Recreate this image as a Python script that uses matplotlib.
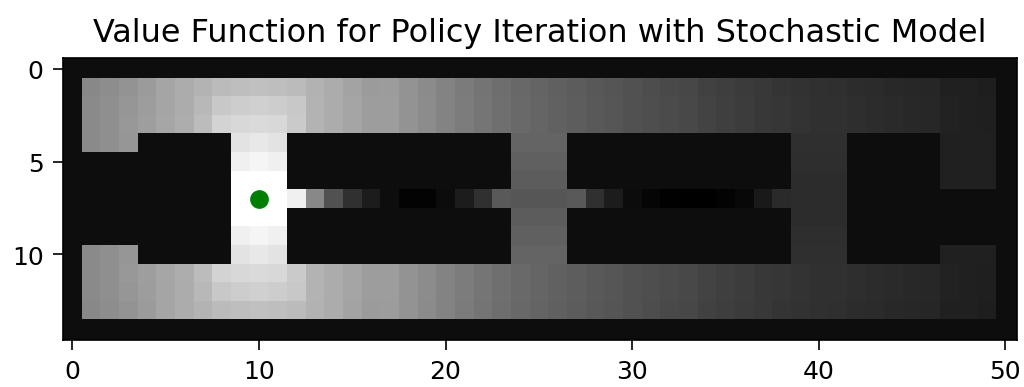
import matplotlib
matplotlib.use("Agg")
import matplotlib.pyplot as plt
import numpy as np

# grey level of each cell (0-255), one list per grid row
w = 13  # wall cells

row_0 = [w] * 51
row_1 = [w, 136, 141, 148, 155, 165, 172, 180, 187, 190, 192, 190, 187, 178, 172, 163, 155,
         156, 147, 139, 131, 123, 116, 110, 104, 100, 96, 92, 88, 85, 81, 77, 74, 71,
         66, 62, 59, 56, 53, 50, 48, 47, 45, 43, 41, 39, 38, 33, 32, 30, w]
row_2 = [w, 138, 143, 150, 157, 165, 172, 184, 200, 205, 208, 205, 200, 180, 172, 165, 157,
         157, 148, 140, 132, 124, 117, 111, 105, 101, 97, 93, 89, 86, 82, 78, 75, 72,
         67, 63, 60, 57, 54, 51, 49, 48, 46, 44, 42, 40, 39, 34, 33, 31, w]
row_3 = [w, 138, 143, 152, 158, 166, 173, 188, 212, 216, 218, 216, 202, 180, 172, 165, 157,
         157, 148, 140, 132, 124, 117, 111, 105, 101, 97, 93, 89, 86, 82, 78, 75, 72,
         67, 63, 60, 57, 54, 51, 49, 48, 46, 44, 42, 40, 39, 34, 33, 31, w]
row_4 = [w, 138, 143, 150] + [w] * 5 + [228, 232, 228] + [w] * 12 + [100, 100, 100] + [w] * 12 \
    + [47, 47, 47] + [w] * 5 + [33, 33, 33, w]
row_5 = [w] * 9 + [240, 245, 240] + [w] * 12 + [96, 96, 96] + [w] * 12 \
    + [46, 46, 46] + [w] * 5 + [33, 33, 33, w]
row_6 = [w] * 9 + [255, 255, 255] + [w] * 12 + [92, 92, 92] + [w] * 12 \
    + [45, 45, 45] + [w] * 5 + [33, 33, 33, w]
row_7 = [w] * 9 + [255, 255, 255, 240, 136, 82, 48, 28, 13, 3, 3, 12, 28, 48, 90,
                   86, 86, 86, 90, 48, 28, 12, 5, 1, 0, 0, 3, 8, 25, 42,
                   45, 45, 45] + [w] * 9
row_8 = [w] * 9 + [255, 255, 255] + [w] * 12 + [92, 92, 92] + [w] * 12 \
    + [45, 45, 45] + [w] * 9
row_9 = [w] * 9 + [240, 245, 240] + [w] * 12 + [96, 96, 96] + [w] * 12 \
    + [46, 46, 46] + [w] * 9
row_10 = row_4
row_11 = row_3
row_12 = row_2
row_13 = row_1
row_14 = row_0

values = np.array([row_0, row_1, row_2, row_3, row_4, row_5, row_6, row_7,
                   row_8, row_9, row_10, row_11, row_12, row_13, row_14])

start_x = [10]
start_y = [7]

fig = plt.figure(figsize=(1024 / 150, 388 / 150), dpi=150)
ax = fig.add_axes([63 / 1024, 1 - 341 / 388, 953.5 / 1024, 282 / 388])
ax.set_facecolor("#0d0d0d")  # limits run slightly past the image
ax.imshow(values, cmap="gray", vmin=0, vmax=255, aspect="auto", interpolation="nearest")
ax.plot(start_x, start_y, "o", color="green", markersize=9, markeredgewidth=0)
ax.set_xlim(-0.5, 50.6)
ax.set_ylim(14.6, -0.57)
ax.set_xticks([0, 10, 20, 30, 40, 50])
ax.set_yticks([0, 5, 10])
ax.tick_params(labelsize=12, length=4.8, pad=4.5)
ax.set_title("Value Function for Policy Iteration with Stochastic Model", fontsize=15.3, pad=8)

plt.savefig("out.png", dpi=150)
